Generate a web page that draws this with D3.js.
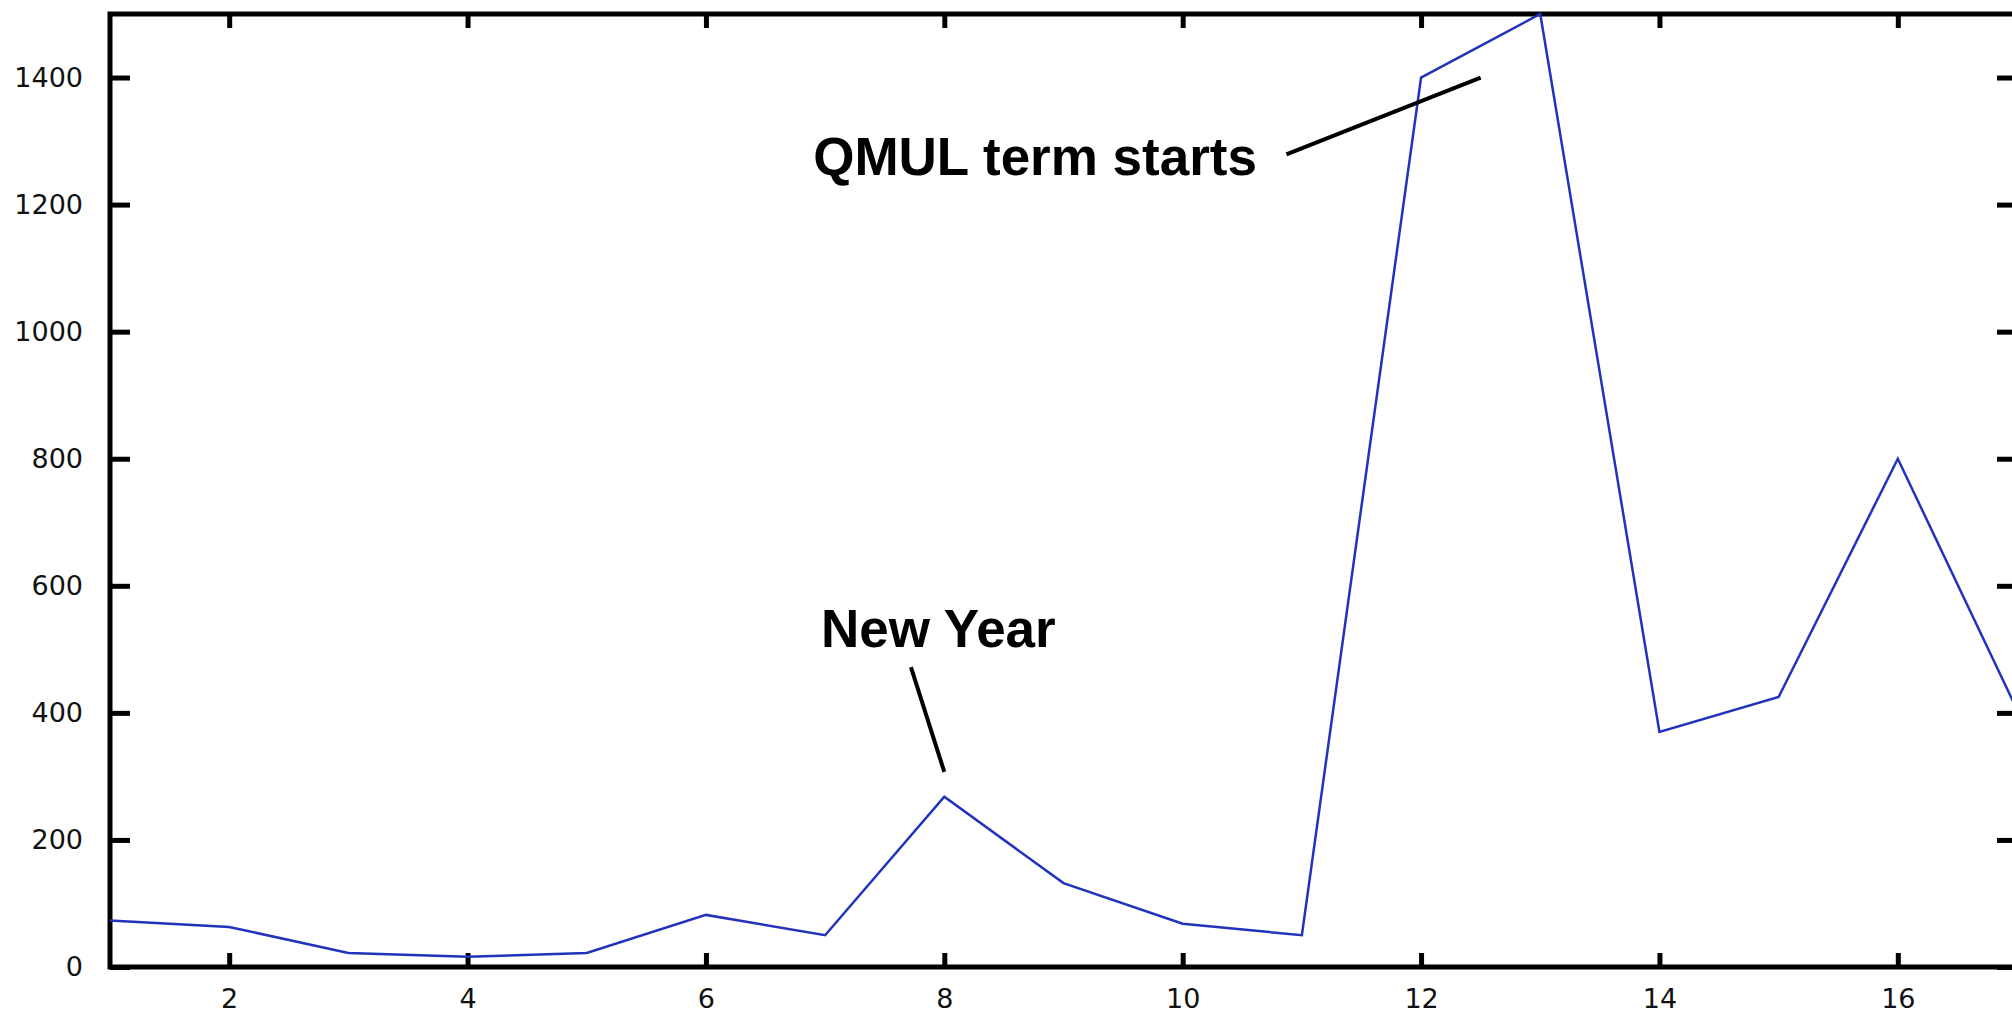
<html>
<head>
  <script src="https://cdn.jsdelivr.net/npm/d3@7"></script>
  <style>
  body {
    margin: 0;
    background: #fff;
  }
  .tick text {
    font-family: "DejaVu Sans";
    font-size: 27px;
    fill: #111;
  }
  .note {
    font-family: "Liberation Sans", Arial;
    font-weight: bold;
    font-size: 53px;
    fill: #000;
  }
  </style>
</head>
<body>
<svg id="chart"></svg>
<script>
const WIDTH = 2012
const HEIGHT = 1017
const MARGIN = {
  left: 110,
  top: 14,
  bottom: 50,
  right: -5
}

// weeks and visitor counts
const weeks = [1, 2, 3, 4, 5, 6, 7, 8, 9, 10, 11, 12, 13, 14, 15, 16, 17]
const visits = [73, 63, 22, 16, 22, 82, 50, 268, 132, 68, 50, 1400, 1500, 370, 425, 800, 405]

const xTicks = [2, 4, 6, 8, 10, 12, 14, 16]
const yTicks = [0, 200, 400, 600, 800, 1000, 1200, 1400]

// annotations: label position and leader line in data space
const noteLabels = ["New Year", "QMUL term starts"]
const noteAnchor = [[7.95, 504], [6.9, 1247]]
const noteLine = [[[7.72, 472], [8.0, 307]], [[10.87, 1279], [12.5, 1400]]]
const noteAlign = ["middle", "start"]

let svg = d3.select("#chart")
  .attr("width", WIDTH)
  .attr("height", HEIGHT)

let x = d3.scaleLinear()
  .domain([1, 17])
  .range([MARGIN.left, WIDTH - MARGIN.right])

let y = d3.scaleLinear()
  .domain([0, 1500])
  .range([HEIGHT - MARGIN.bottom, MARGIN.top])

let x0 = x.range()[0], x1 = x.range()[1]
let y0 = y.range()[0], y1 = y.range()[1]

// left axis with labels, ticks pointing in
svg.append("g")
  .attr("transform", `translate(${x0},0)`)
  .call(d3.axisLeft(y).tickValues(yTicks).tickFormat(d3.format("d")).tickSize(-20).tickPadding(27))
  .call(g => g.select(".domain").remove())
  .call(g => g.selectAll(".tick line").attr("stroke", "#000").attr("stroke-width", 5))

// right axis, ticks only
svg.append("g")
  .attr("transform", `translate(${x1},0)`)
  .call(d3.axisRight(y).tickValues(yTicks).tickSize(-20).tickFormat(""))
  .call(g => g.select(".domain").remove())
  .call(g => g.selectAll(".tick line").attr("stroke", "#000").attr("stroke-width", 5))

// bottom axis
svg.append("g")
  .attr("transform", `translate(0,${y0})`)
  .call(d3.axisBottom(x).tickValues(xTicks).tickFormat(d3.format("d")).tickSize(-14).tickPadding(22))
  .call(g => g.select(".domain").remove())
  .call(g => g.selectAll(".tick line").attr("stroke", "#000").attr("stroke-width", 5))

// top axis, ticks only
svg.append("g")
  .attr("transform", `translate(0,${y1})`)
  .call(d3.axisTop(x).tickValues(xTicks).tickSize(-14).tickFormat(""))
  .call(g => g.select(".domain").remove())
  .call(g => g.selectAll(".tick line").attr("stroke", "#000").attr("stroke-width", 5))

// frame
svg.append("rect")
  .attr("x", x0)
  .attr("y", y1)
  .attr("width", x1 - x0)
  .attr("height", y0 - y1)
  .attr("fill", "none")
  .attr("stroke", "#000")
  .attr("stroke-width", 5)

let line = d3.line()
  .x((d, i) => x(weeks[i]))
  .y(d => y(d))

svg.append("path")
  .datum(visits)
  .attr("d", line)
  .attr("fill", "none")
  .attr("stroke", "#2233bb")
  .attr("stroke-width", 2.5)

noteLabels.forEach((t, i) => {
  svg.append("text")
    .attr("class", "note")
    .attr("x", x(noteAnchor[i][0]))
    .attr("y", y(noteAnchor[i][1]))
    .attr("text-anchor", noteAlign[i])
    .text(t)
  svg.append("line")
    .attr("x1", x(noteLine[i][0][0]))
    .attr("y1", y(noteLine[i][0][1]))
    .attr("x2", x(noteLine[i][1][0]))
    .attr("y2", y(noteLine[i][1][1]))
    .attr("stroke", "#000")
    .attr("stroke-width", 4)
})
</script>
</body>
</html>
